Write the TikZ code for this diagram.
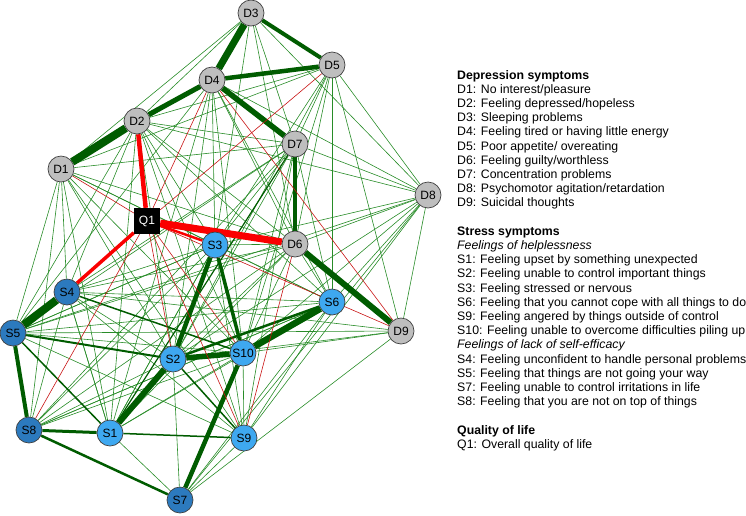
\documentclass[tikz,border=0pt]{standalone}
\usepackage{fontspec}
\setmainfont{Liberation Sans}
\usepackage{xcolor}
\usepackage{tikz}
\usetikzlibrary{positioning,backgrounds}
\definecolor{dgray}{RGB}{190,190,190}
\definecolor{slight}{RGB}{62,168,240}
\definecolor{sdark}{RGB}{44,122,190}
\definecolor{edgegreen}{RGB}{40,140,40}
\definecolor{edgedark}{RGB}{0,92,0}
\definecolor{edgered}{RGB}{200,20,20}
\definecolor{edgebright}{RGB}{250,0,0}

\begin{document}
\begin{tikzpicture}[
  x=1pt, y=-1pt,
  every node/.style={font=\fontsize{12}{12}\selectfont, inner sep=0pt},
  sym/.style={circle, draw=black!75, line width=0.7pt, minimum size=26pt},
  dep/.style={sym, fill=dgray},
  hlp/.style={sym, fill=slight},
  eff/.style={sym, fill=sdark},
  qol/.style={rectangle, fill=black, text=white, minimum size=26pt},
  gr/.style={draw=edgegreen, line width=#1}, gr/.default=0.6pt,
  dg/.style={draw=edgedark, line width=#1},
  rd/.style={draw=edgered, line width=#1}, rd/.default=0.6pt,
  rr/.style={draw=edgebright, line width=#1}
]
\useasboundingbox (0,0) rectangle (746,515);

% depression symptoms
\node[dep] (D1) at (61,169) {D1};
\node[dep] (D2) at (137,121) {D2};
\node[dep] (D3) at (251,13) {D3};
\node[dep] (D4) at (212,80) {D4};
\node[dep] (D5) at (332,65) {D5};
\node[dep] (D6) at (295,244) {D6};
\node[dep] (D7) at (295,144) {D7};
\node[dep] (D8) at (428,195) {D8};
\node[dep] (D9) at (401,331) {D9};
% stress symptoms
\node[hlp] (S1) at (110,433) {S1};
\node[hlp] (S2) at (173,359) {S2};
\node[hlp] (S3) at (215,245) {S3};
\node[eff] (S4) at (67,292) {S4};
\node[eff] (S5) at (13,333) {S5};
\node[hlp] (S6) at (332,302) {S6};
\node[eff] (S7) at (180,500) {S7};
\node[eff] (S8) at (29,430) {S8};
\node[hlp] (S9) at (244,438) {S9};
\node[hlp] (S10) at (243,353) {S10};
% quality of life
\node[qol] (Q1) at (147,221) {Q1};

\begin{scope}[on background layer]
% weak positive edges
\foreach \a/\b in {D1/S5, D1/S4, D1/S8, D1/S1, D1/S2, D1/S10, D1/S3, D1/S6, D1/D6, D1/D7, D1/S9,
    D2/D7, D2/D8, D2/D6, D2/S3, D2/S2, D2/S10, D2/S6, D2/S9, D2/S1, D2/S4, D2/S5, D2/D3,
    D3/D1, D3/D7, D3/D6, D3/D8, D3/S3,
    D4/D1, D4/D8, D4/D6, D4/S3, D4/S2, D4/S10, D4/S6, D4/S5, D4/S1,
    D5/D7, D5/D6, D5/D8, D5/D9, D5/S6, D5/S3, D5/S10, D5/S2, D5/D2, D5/D1,
    D6/S3, D6/S2, D6/S10, D6/S6, D6/S5, D6/S4, D6/S1, D6/D8, D6/S8,
    D7/D8, D7/S3, D7/S2, D7/S10, D7/S6, D7/S4, D7/S5, D7/S9, D7/S8,
    D8/S6, D8/S2, D8/S10, D8/S9, D8/S7, D8/D9, D8/S3, D8/S5,
    D9/S5, D9/S2, D9/S10, D9/S7, D9/S4,
    S1/S3, S1/S10, S1/S6, S1/S4, S1/S7,
    S2/S4, S2/S8, S2/S7,
    S3/S4, S3/S5, S3/S6, S3/S8, S3/S9, S3/S1,
    S4/S6, S4/S8, S4/S1, S4/S9,
    S5/S3, S5/S6, S5/S10, S5/S9,
    S6/S8, S6/S9, S6/S7,
    S8/S10, S8/S6,
    S9/S10, S9/S7}
  \draw[gr] (\a) -- (\b);
% strong positive edges
\draw[dg=7pt] (D3) -- (D4);
\draw[dg=4pt] (D3) -- (D5);
\draw[dg=4.5pt] (D4) -- (D5);
\draw[dg=5pt] (D2) -- (D4);
\draw[dg=8pt] (D1) -- (D2);
\draw[dg=5.5pt] (D4) -- (D7);
\draw[dg=4pt] (D7) -- (D6);
\draw[dg=6pt] (D6) -- (D9);
\draw[dg=1.2pt] (D7) -- (S1);
\draw[dg=8pt] (S4) -- (S5);
\draw[dg=4pt] (S5) -- (S8);
\draw[dg=3pt] (S8) -- (S1);
\draw[dg=2.5pt] (S8) -- (S7);
\draw[dg=6pt] (S1) -- (S2);
\draw[dg=5.5pt] (S2) -- (S10);
\draw[dg=4.5pt] (S2) -- (S3);
\draw[dg=3.5pt] (S3) -- (S10);
\draw[dg=6.5pt] (S10) -- (S6);
\draw[dg=4.5pt] (S10) -- (S7);
\draw[dg=2.5pt] (S2) -- (S6);
\draw[dg=2pt] (S5) -- (S2);
\draw[dg=1.5pt] (S5) -- (S1);
\draw[dg=1.5pt] (S4) -- (S10);
\draw[dg=1.5pt] (S1) -- (S9);
\draw[dg=1.5pt] (S2) -- (S9);
% negative edges
\foreach \a/\b in {D1/Q1, D5/Q1, D4/Q1, S8/Q1, Q1/S2, Q1/S9, Q1/D9, D4/D9, D6/S9, Q1/S10}
  \draw[rd] (\a) -- (\b);
\draw[rr=7pt] (Q1) -- (D6);
\draw[rr=4.5pt] (D2) -- (Q1);
\draw[rr=3.5pt] (Q1) -- (S4);
\draw[rr=2.5pt] (Q1) -- (S3);
\end{scope}

% legend
\node[anchor=north west, align=left, font=\fontsize{12.3}{14.2}\selectfont] (leg) at (457,70) {%
\textbf{Depression symptoms}\\
D1: No interest/pleasure\\
D2: Feeling depressed/hopeless\\
D3: Sleeping problems\\
D4: Feeling tired or having little energy\\
D5: Poor appetite/ overeating\\
D6: Feeling guilty/worthless\\
D7: Concentration problems\\
D8: Psychomotor agitation/retardation\\
D9: Suicidal thoughts\\[14.2pt]
\textbf{Stress symptoms}\\
\textit{Feelings of helplessness}\\
S1: Feeling upset by something unexpected\\
S2: Feeling unable to control important things\\
S3: Feeling stressed or nervous\\
S6: Feeling that you cannot cope with all things to do\\
S9: Feeling angered by things outside of control\\
S10: Feeling unable to overcome difficulties piling up\\
\textit{Feelings of lack of self-efficacy}\\
S4: Feeling unconfident to handle personal problems\\
S5: Feeling that things are not going your way\\
S7: Feeling unable to control irritations in life\\
S8: Feeling that you are not on top of things\\[14.2pt]
\textbf{Quality of life}\\
Q1: Overall quality of life};
\end{tikzpicture}
\end{document}
